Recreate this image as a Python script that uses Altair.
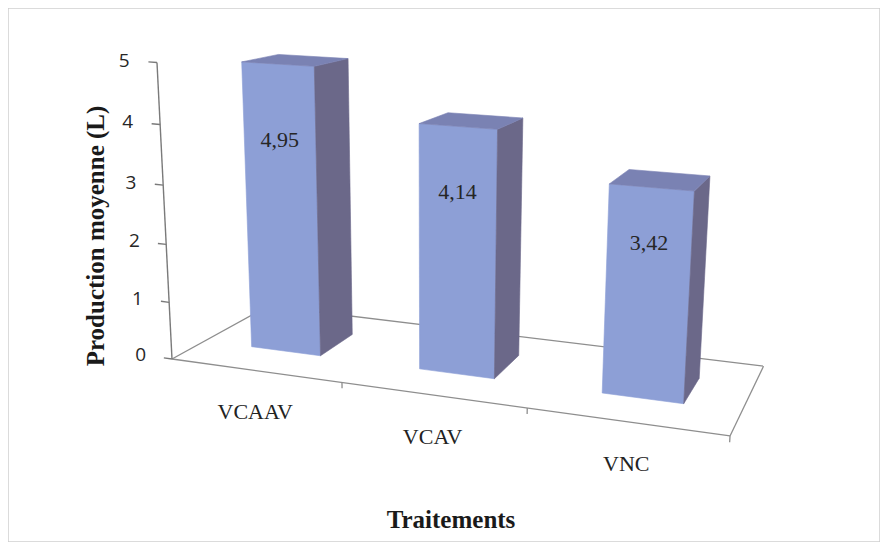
import altair as alt
import pandas as pd

# ---------------- data ----------------
categories = ["VCAAV", "VCAV", "VNC"]
values = [4.95, 4.14, 3.42]
value_labels = ["4,95", "4,14", "3,42"]
y_ticks = [0, 1, 2, 3, 4, 5]
x_title = "Traitements"
y_title = "Production moyenne (L)"

# ---------------- 3D perspective view (style) ----------------
PA, PB, PC = 467.5, 132.1, 172.0
PD, PE, PF = 22.9, -11.8, 359.0
PG, PH = -0.124, 0.1346
VA, VB, VG = -4.73, -60.0, -0.011
N = len(categories)
BAR_HALF = 0.21
T0, T1 = 0.32, 0.70
LABEL_FRAC = 0.745

FRONT = "#8D9FD6"
SIDE = "#6B6889"
TOP = "#7A82B3"
FLOOR = "#8E8E8E"


def proj(u, t, v):
    s = u / N
    w = PG * s + PH * t + 1 + VG * v
    return [(PA * s + PB * t + PC + VA * v) / w, (PD * s + PE * t + PF + VB * v) / w]


def poly(pts):
    ring = [proj(*p) for p in pts]
    ring.append(ring[0])
    return {"type": "Feature", "geometry": {"type": "Polygon", "coordinates": [ring]}, "properties": {}}


def line(pts):
    return {"type": "Feature", "geometry": {"type": "LineString", "coordinates": [proj(*p) for p in pts]},
            "properties": {}}


front, side, top = [], [], []
for i, val in enumerate(values):
    c = i + 0.5
    ul, ur = c - BAR_HALF, c + BAR_HALF
    front.append(poly([(ul, T0, 0), (ur, T0, 0), (ur, T0, val), (ul, T0, val)]))
    side.append(poly([(ur, T0, 0), (ur, T1, 0), (ur, T1, val), (ur, T0, val)]))
    top.append(poly([(ul, T0, val), (ur, T0, val), (ur, T1, val), (ul, T1, val)]))

floor_lines = [
    line([(0, 1, 0), (N, 1, 0)]),
    line([(0, 0, 0), (0, 1, 0)]),
    line([(N, 0, 0), (N, 1, 0)]),
    line([(0, 0, 0), (N, 0, 0)]),
]
for k in range(1, N + 1):
    floor_lines.append(line([(k, 0, 0), (k, 0, -0.1)]))

axis_lines = [line([(0, 0, 0), (0, 0, max(y_ticks))])]
for v in y_ticks:
    axis_lines.append(line([(-0.05, 0, v), (0, 0, v)]))

PROJ = dict(type="identity", scale=1, translate=[-8, -8])


def geo(features, **mark):
    return alt.Chart(alt.Data(values=features)).mark_geoshape(**mark).project(**PROJ)


layers = [
    geo(floor_lines, filled=False, stroke=FLOOR, strokeWidth=1.3),
    geo(axis_lines, filled=False, stroke="#7A7A7A", strokeWidth=1.4),
    geo(front, fill=FRONT, stroke=FRONT, strokeWidth=0.6),
    geo(side, fill=SIDE, stroke=SIDE, strokeWidth=0.6),
    geo(top, fill=TOP, stroke=TOP, strokeWidth=0.6),
]

# value labels on bar fronts
vl = pd.DataFrame({
    "lon": [proj(i + 0.5, T0, LABEL_FRAC * v)[0] for i, v in enumerate(values)],
    "lat": [proj(i + 0.5, T0, LABEL_FRAC * v)[1] for i, v in enumerate(values)],
    "label": value_labels,
})
layers.append(
    alt.Chart(vl).mark_text(font="Liberation Serif", fontSize=22, color="#262626", align="center",
                            baseline="middle")
    .encode(longitude="lon:Q", latitude="lat:Q", text="label:N").project(**PROJ)
)

# category labels
cl = pd.DataFrame({
    "lon": [proj(i + 0.5, 0, 0)[0] for i in range(N)],
    "lat": [proj(i + 0.5, 0, 0)[1] for i in range(N)],
    "label": categories,
})
layers.append(
    alt.Chart(cl).mark_text(font="Liberation Serif", fontSize=22, color="#222222", align="center",
                            baseline="middle", dy=42)
    .encode(longitude="lon:Q", latitude="lat:Q", text="label:N").project(**PROJ)
)

# y tick labels
yl = pd.DataFrame({
    "lon": [proj(-0.16, 0, v)[0] for v in y_ticks],
    "lat": [proj(-0.16, 0, v)[1] for v in y_ticks],
    "label": [str(v) for v in y_ticks],
})
layers.append(
    alt.Chart(yl).mark_text(font="Open Sans", fontSize=19, color="#262626", align="right", baseline="middle")
    .encode(longitude="lon:Q", latitude="lat:Q", text="label:N").project(**PROJ)
)

# axis titles
layers.append(
    alt.Chart(pd.DataFrame({"t": [x_title]})).mark_text(
        font="Liberation Serif", fontSize=25, fontWeight="bold", color="#1A1A1A", align="center",
        baseline="middle").encode(x=alt.value(443), y=alt.value(512), text="t:N")
)
layers.append(
    alt.Chart(pd.DataFrame({"t": [y_title]})).mark_text(
        font="Liberation Serif", fontSize=25, fontWeight="bold", color="#1A1A1A", align="center",
        baseline="middle", angle=270).encode(x=alt.value(88), y=alt.value(228), text="t:N")
)

chart = (
    alt.layer(*layers)
    .properties(width=872, height=534, padding=0, autosize="none", background="white")
    .configure_view(stroke="#CFCFCF", strokeWidth=1.5)
)

chart.save("out.html", embed_options={"renderer": "svg", "actions": False})
